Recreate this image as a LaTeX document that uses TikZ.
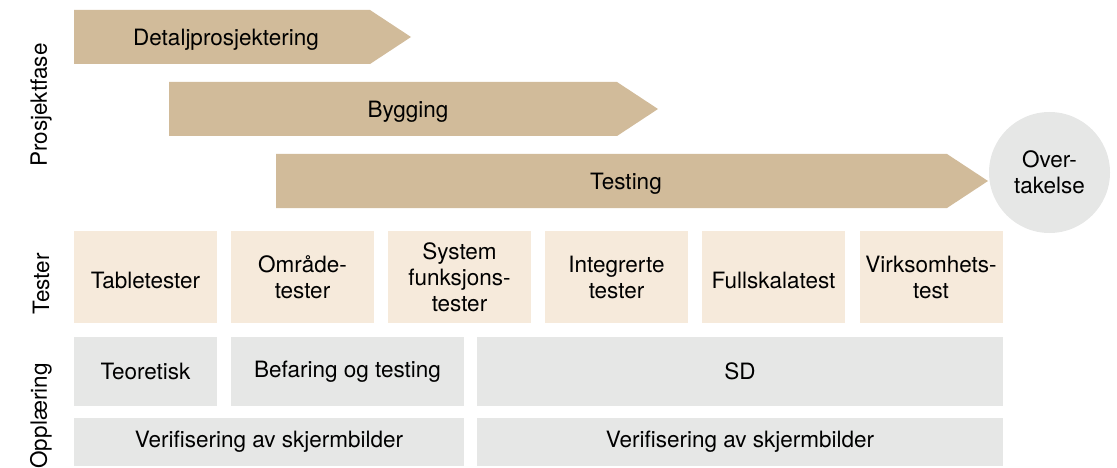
\documentclass[tikz,border=0pt]{standalone}
\usepackage{fontspec}
\setmainfont{TeX Gyre Heros}
\definecolor{phasecol}{HTML}{D1BB9A}
\definecolor{testcol}{HTML}{F6EADB}
\definecolor{graycol}{HTML}{E6E7E6}
\begin{document}
\begin{tikzpicture}[x=1pt,y=-1pt,
  font=\fontsize{22.5}{26}\selectfont,
  phase/.style={fill=phasecol,draw=none},
  lbl/.style={inner sep=0pt,align=center,text=black},
  testbox/.style={fill=testcol,draw=none,minimum width=143pt,minimum height=92pt,inner sep=0pt,align=center},
  lowered/.style={text height=24pt},
  graybox/.style={fill=graycol,draw=none,inner sep=0pt,align=center},
  sidelbl/.style={inner sep=0pt,rotate=90}]
\useasboundingbox (0,0) rectangle (1117,468);

% phase arrows
\path[phase] (74,10) -- (370,10) -- (411,37) -- (370,64) -- (74,64) -- cycle;
\path[phase] (169,82) -- (617,82) -- (658,109) -- (617,136) -- (169,136) -- cycle;
\path[phase] (276,154) -- (947,154) -- (988,181) -- (947,208) -- (276,208) -- cycle;
\node[lbl] (detalj) at (226,40) {Detaljprosjektering};
\node[lbl] (bygg) at (408,112) {Bygging};
\node[lbl] (testing) at (626,184) {Testing};

% circle
\node[circle,fill=graycol,minimum size=121pt,inner sep=0pt,align=center] (over) at (1049.5,172.5) {Over-\\takelse};

% side labels
\node[sidelbl] (lprosj) at (41,105) {Prosjektfase};
\node[sidelbl] (ltest) at (41,284) {Tester};
\node[sidelbl] (lopp) at (41,416) {Opplæring};

% test boxes
\node[testbox,lowered] (t1) at (145.5,277) {Tabletester};
\node[testbox] (t2) at (302.5,277) {Område-\\tester};
\node[testbox] (t3) at (459.5,277) {System\\funksjons-\\tester};
\node[testbox] (t4) at (616.5,277) {Integrerte\\tester};
\node[testbox,lowered] (t5) at (773.5,277) {Fullskalatest};
\node[testbox] (t6) at (931,277) {Virksomhets-\\test};

% training boxes
\node[graybox,minimum width=143pt,minimum height=69pt] (o1) at (145.5,371.5) {Teoretisk};
\node[graybox,minimum width=233pt,minimum height=69pt] (o2) at (347.5,371.5) {Befaring og testing};
\node[graybox,minimum width=526pt,minimum height=69pt] (o3) at (740,371.5) {SD};
\node[graybox,minimum width=390pt,minimum height=48pt] (v1) at (269,442) {Verifisering av skjermbilder};
\node[graybox,minimum width=526pt,minimum height=48pt] (v2) at (740,442) {Verifisering av skjermbilder};
\end{tikzpicture}
\end{document}
